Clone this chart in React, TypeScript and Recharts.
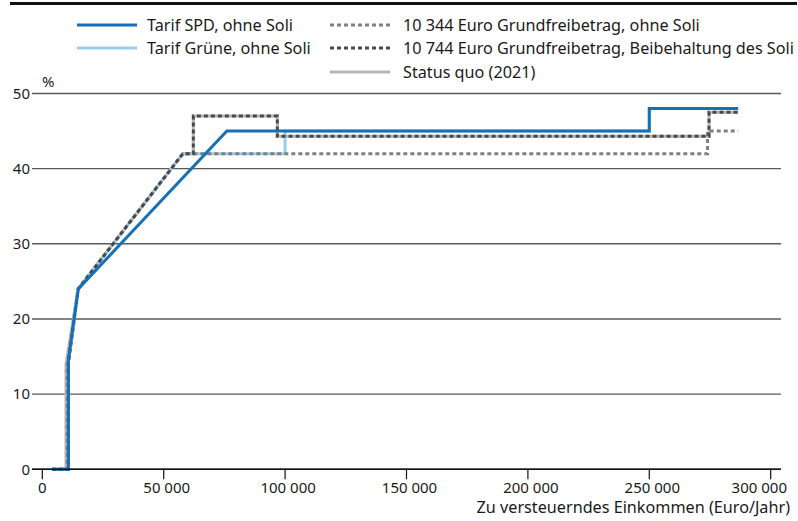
import { LineChart, Line, XAxis, YAxis, CartesianGrid } from "recharts";

// income (Euro/Jahr) and marginal rate (%) per tariff
const spdX = [4000, 10744, 10744, 14800, 76000, 250000, 250000, 286600];
const spdY = [0, 0, 14.5, 24, 45, 45, 48, 48];

const grueneX = [4000, 10744, 10744, 14800, 57900, 100000, 100000, 250000, 250000, 286600];
const grueneY = [0, 0, 14.5, 24, 42, 42, 45, 45, 48, 48];

const gfb10344X = [4000, 10344, 10344, 14800, 57900, 274000, 274000, 286600];
const gfb10344Y = [0, 0, 14, 24, 42, 42, 45, 45];

const gfb10744X = [4000, 10744, 10744, 14800, 57900, 62200, 62200, 96800, 96800, 274600, 274600, 286600];
const gfb10744Y = [0, 0, 14, 24, 42, 42, 47, 47, 44.3, 44.3, 47.5, 47.5];

const statusQuoX = [4000, 9744, 9744, 14753, 57919, 62200, 62200, 96800, 96800, 274613, 274613, 286600];
const statusQuoY = [0, 0, 14, 24, 42, 42, 47, 47, 44.3, 44.3, 47.5, 47.5];

const xTicks = [0, 50000, 100000, 150000, 200000, 250000, 300000];
const yTicks = [0, 10, 20, 30, 40, 50];

const toRows = (xs: number[], ys: number[]) => xs.map((x, i) => ({ x, y: ys[i] }));

const FONT = "'Noto Sans', 'Open Sans', sans-serif";
const TEXT = "#1a1a1a";

const legendItems = [
  { label: "Tarif SPD, ohne Soli", color: "#1570b8", dash: "", left: 77, top: 25 },
  { label: "Tarif Grüne, ohne Soli", color: "#9dcbea", dash: "", left: 77, top: 48 },
  { label: "10 344 Euro Grundfreibetrag, ohne Soli", color: "#808080", dash: "4 3", left: 330, top: 25 },
  { label: "10 744 Euro Grundfreibetrag, Beibehaltung des Soli", color: "#4a4a4a", dash: "4 3", left: 330, top: 48 },
  { label: "Status quo (2021)", color: "#b5b5b5", dash: "", left: 330, top: 72 },
];

const fmt = (v: number) => String(v).replace(/\B(?=(\d{3})+(?!\d))/g, " ");

// x tick labels sit a little right of the tick; the last one is kept inside the frame
const XTick = (props: any) => {
  const { x, y, payload, index } = props;
  const last = index === xTicks.length - 1;
  const first = index === 0;
  return (
    <text
      x={last ? 787 : first ? x : x + 3}
      y={y}
      dy="0.71em"
      textAnchor={last ? "end" : "middle"}
      fill={TEXT}
      fontSize={15}
      fontFamily={FONT}
    >
      {fmt(payload.value)}
    </text>
  );
};

export default function App() {
  return (
    <div style={{ position: "relative", width: 798, height: 521, fontFamily: FONT, color: TEXT }}>
      <style>{`body{margin:0}`}</style>

      <div style={{ position: "absolute", left: 10, top: 2, width: 787, height: 2.5, background: "#111" }} />

      {legendItems.map((it) => (
        <div key={it.label} style={{ position: "absolute", left: it.left, top: it.top - 12, height: 24, display: "flex", alignItems: "center", whiteSpace: "nowrap" }}>
          <svg width={60} height={6} style={{ marginRight: it.left < 200 ? 10 : 13 }}>
            <line x1={0} y1={3} x2={60} y2={3} stroke={it.color} strokeWidth={3} strokeDasharray={it.dash || undefined} />
          </svg>
          <span style={{ fontSize: 16.2 }}>{it.label}</span>
        </div>
      ))}

      <div style={{ position: "absolute", left: 42, top: 71, fontSize: 15 }}>%</div>

      <LineChart width={798} height={521} margin={{ top: 93.5, right: 17, bottom: 21.7, left: 0 }}>
        <CartesianGrid vertical={false} stroke="#5a5a5a" strokeWidth={1.4} />
        <XAxis
          dataKey="x"
          type="number"
          domain={[-4250, 304250]}
          ticks={xTicks}
          height={30}
          axisLine={{ stroke: "#111", strokeWidth: 1.5 }}
          tickLine={{ stroke: "#111", strokeWidth: 1.2 }}
          tickSize={10}
          tickMargin={3}
          tick={<XTick />}
          interval={0}
        />
        <YAxis
          type="number"
          domain={[0, 50]}
          ticks={yTicks}
          width={32}
          axisLine={false}
          tickLine={false}
          tickSize={0}
          tickMargin={2}
          tick={{ fill: TEXT, fontSize: 15, fontFamily: FONT }}
        />
        <Line data={toRows(statusQuoX, statusQuoY)} dataKey="y" stroke="#b5b5b5" strokeWidth={3} dot={false} isAnimationActive={false} />
        <Line data={toRows(grueneX, grueneY)} dataKey="y" stroke="#9dcbea" strokeWidth={3} dot={false} isAnimationActive={false} />
        <Line data={toRows(gfb10344X, gfb10344Y)} dataKey="y" stroke="#808080" strokeWidth={3} strokeDasharray="4 3" dot={false} isAnimationActive={false} />
        <Line data={toRows(gfb10744X, gfb10744Y)} dataKey="y" stroke="#4a4a4a" strokeWidth={3} strokeDasharray="4 3" dot={false} isAnimationActive={false} />
        <Line data={toRows(spdX, spdY)} dataKey="y" stroke="#1570b8" strokeWidth={3} dot={false} isAnimationActive={false} />
      </LineChart>

      <div style={{ position: "absolute", right: 8, top: 497, fontSize: 16.2, lineHeight: "20px", whiteSpace: "nowrap" }}>
        Zu versteuerndes Einkommen (Euro/Jahr)
      </div>
    </div>
  );
}
